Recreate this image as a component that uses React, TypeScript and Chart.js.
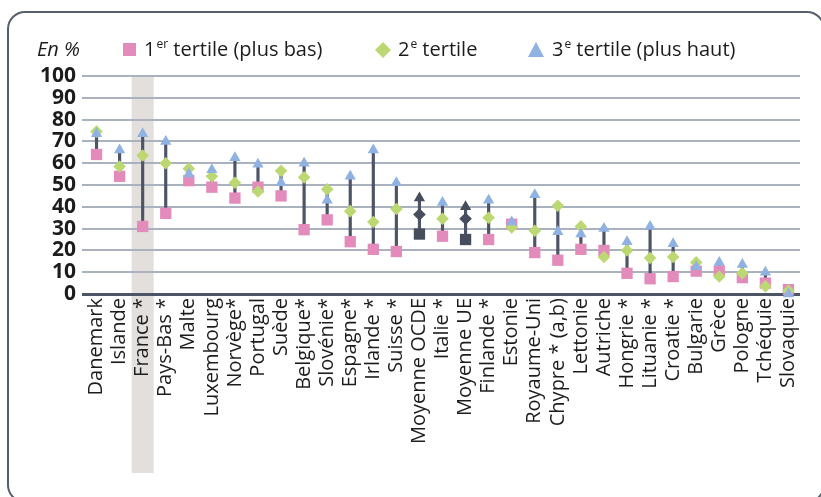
import React, { useEffect, useRef } from 'react';
import { Chart, registerables } from 'chart.js';

Chart.register(...registerables);

const categories = [
  'Danemark', 'Islande', 'France *', 'Pays-Bas *', 'Malte', 'Luxembourg', 'Norvège*', 'Portugal', 'Suède',
  'Belgique*', 'Slovénie*', 'Espagne*', 'Irlande *', 'Suisse *', 'Moyenne OCDE', 'Italie *', 'Moyenne UE',
  'Finlande *', 'Estonie', 'Royaume-Uni', 'Chypre * (a,b)', 'Lettonie', 'Autriche', 'Hongrie *', 'Lituanie *',
  'Croatie *', 'Bulgarie', 'Grèce', 'Pologne', 'Tchéquie', 'Slovaquie',
];

const tertile1 = [64, 54, 31, 37, 52, 49, 44, 49, 45, 29.5, 34, 24, 20.5, 19.5, 27.5, 26.5, 25, 25, 32, 19, 15.5, 20.5, 20, 9.5, 7, 8, 10.5, 10.5, 7.5, 5, 2];
const tertile2 = [74.5, 58.5, 63.5, 60, 57.5, 54, 51, 47, 56.5, 53.5, 48, 38, 33, 39, 36.5, 34.5, 34.5, 35, 30.5, 29, 40.5, 31, 17, 20, 16.5, 17, 14.5, 8, 9.5, 3.5, 1.5];
const tertile3 = [73.5, 66, 73.5, 70, 55, 57, 62.5, 59.5, 51, 60, 43, 54, 66, 51, 44, 42, 40, 43, 33, 45.5, 28.5, 27.5, 30, 24, 31, 23, 12.5, 14.5, 13.5, 10, 0];

const highlighted = 'France *';
const averages = ['Moyenne OCDE', 'Moyenne UE'];

const legendLabels = [
  { pre: '1', sup: 'er', post: ' tertile (plus bas)' },
  { pre: '2', sup: 'e', post: ' tertile' },
  { pre: '3', sup: 'e', post: ' tertile (plus haut)' },
];
const unitLabel = 'En %';

const FONT = '"Open Sans", "DejaVu Sans", sans-serif';
const PINK = '#e38cbc';
const GREEN = '#bcd872';
const BLUE = '#90b2e2';
const DARK = '#464d5d';
const LINE = '#4d5465';
const GRID = '#aab1bf';
const TEXT = '#1c1c1c';

const bandPlugin = {
  id: 'band',
  beforeDraw(chart: any) {
    const x = chart.scales.x;
    const idx = categories.indexOf(highlighted);
    if (idx < 0) return;
    const c = x.getPixelForValue(idx);
    const w = x.width / categories.length;
    const ctx = chart.ctx;
    ctx.save();
    ctx.fillStyle = '#e3dfdc';
    ctx.fillRect(c - w / 2 + 0.5, chart.chartArea.top, w - 1, 473 - chart.chartArea.top);
    ctx.restore();
  },
};

const legendPlugin = {
  id: 'customLegend',
  afterDraw(chart: any) {
    const ctx = chart.ctx;
    ctx.save();
    ctx.fillStyle = TEXT;
    ctx.textBaseline = 'alphabetic';
    ctx.textAlign = 'left';
    const base = 56;
    ctx.font = `italic 20px ${FONT}`;
    ctx.fillText(unitLabel, 37, base);

    const drawLabel = (lab: any, x: number) => {
      ctx.fillStyle = TEXT;
      ctx.font = `20px ${FONT}`;
      ctx.fillText(lab.pre, x, base);
      let cx = x + ctx.measureText(lab.pre).width + 1;
      ctx.font = `12px ${FONT}`;
      ctx.fillText(lab.sup, cx, base - 8);
      cx += ctx.measureText(lab.sup).width;
      ctx.font = `20px ${FONT}`;
      ctx.fillText(lab.post, cx, base);
    };

    ctx.fillStyle = PINK;
    ctx.fillRect(123, 43, 13, 13);
    drawLabel(legendLabels[0], 144);
    ctx.fillStyle = GREEN;
    ctx.beginPath();
    ctx.moveTo(383, 42);
    ctx.lineTo(391, 50);
    ctx.lineTo(383, 58);
    ctx.lineTo(375, 50);
    ctx.closePath();
    ctx.fill();
    drawLabel(legendLabels[1], 398);
    ctx.fillStyle = BLUE;
    ctx.beginPath();
    ctx.moveTo(536, 42);
    ctx.lineTo(544, 57);
    ctx.lineTo(528, 57);
    ctx.closePath();
    ctx.fill();
    drawLabel(legendLabels[2], 552);
    ctx.restore();
  },
};

export default function App() {
  const ref = useRef<HTMLCanvasElement | null>(null);

  useEffect(() => {
    if (!ref.current) return;
    const ranges = categories.map((_, i) => {
      const v = [tertile1[i], tertile2[i], tertile3[i]];
      return [Math.min(...v), Math.max(...v)];
    });
    const colorFor = (base: string) => categories.map((c) => (averages.includes(c) ? DARK : base));

    const chart = new Chart(ref.current, {
      type: 'bar',
      data: {
        labels: categories,
        datasets: [
          {
            type: 'bar',
            label: 'range',
            data: ranges as any,
            backgroundColor: LINE,
            barThickness: 2.5,
            order: 10,
          } as any,
          {
            type: 'line',
            label: '1er tertile (plus bas)',
            data: tertile1,
            showLine: false,
            pointStyle: 'rect',
            pointRadius: 8,
            pointBackgroundColor: colorFor(PINK),
            pointBorderWidth: 0,
            order: 3,
            clip: false,
          } as any,
          {
            type: 'line',
            label: '2e tertile',
            data: tertile2,
            showLine: false,
            pointStyle: 'rectRot',
            pointRadius: 6.3,
            pointBackgroundColor: colorFor(GREEN),
            pointBorderWidth: 0,
            order: 2,
            clip: false,
          } as any,
          {
            type: 'line',
            label: '3e tertile (plus haut)',
            data: tertile3,
            showLine: false,
            pointStyle: 'triangle',
            pointRadius: 6.5,
            pointBackgroundColor: colorFor(BLUE),
            pointBorderWidth: 0,
            order: 1,
            clip: false,
          } as any,
        ],
      },
      options: {
        responsive: false,
        animation: false,
        events: [],
        layout: { padding: { top: 76, right: 21, left: 0, bottom: 0 } },
        plugins: { legend: { display: false }, tooltip: { enabled: false } },
        scales: {
          x: {
            offset: true,
            grid: { display: false, drawTicks: false },
            border: { display: false },
            ticks: {
              autoSkip: false,
              maxRotation: 90,
              minRotation: 90,
              padding: 4,
              color: TEXT,
              font: { family: FONT, size: 20 },
            },
            afterFit: (s: any) => {
              s.height = 203;
            },
          },
          y: {
            min: 0,
            max: 100,
            grid: {
              color: (c: any) => (c.tick && c.tick.value === 0 ? '#4d5465' : GRID),
              lineWidth: (c: any) => (c.tick && c.tick.value === 0 ? 3 : 2),
              drawTicks: true,
              tickLength: 3,
            },
            border: { display: false },
            ticks: {
              stepSize: 10,
              autoSkip: false,
              padding: 6,
              color: TEXT,
              font: { family: FONT, size: 21, weight: 'bold', lineHeight: 1 },
            },
            afterFit: (s: any) => {
              s.width = 85;
            },
          },
        },
      },
      plugins: [bandPlugin, legendPlugin],
    });
    return () => chart.destroy();
  }, []);

  return (
    <div style={{ position: 'fixed', left: 0, top: 0, width: 821, height: 497, overflow: 'hidden', background: '#fff' }}>
      <div
        style={{
          position: 'absolute',
          left: 7,
          top: 11,
          width: 818,
          height: 492,
          boxSizing: 'border-box',
          border: '2.5px solid #575e6e',
          borderRadius: 18,
        }}
      />
      <canvas ref={ref} width={821} height={497} style={{ position: 'absolute', left: 0, top: 0, width: 821, height: 497 }} />
    </div>
  );
}
